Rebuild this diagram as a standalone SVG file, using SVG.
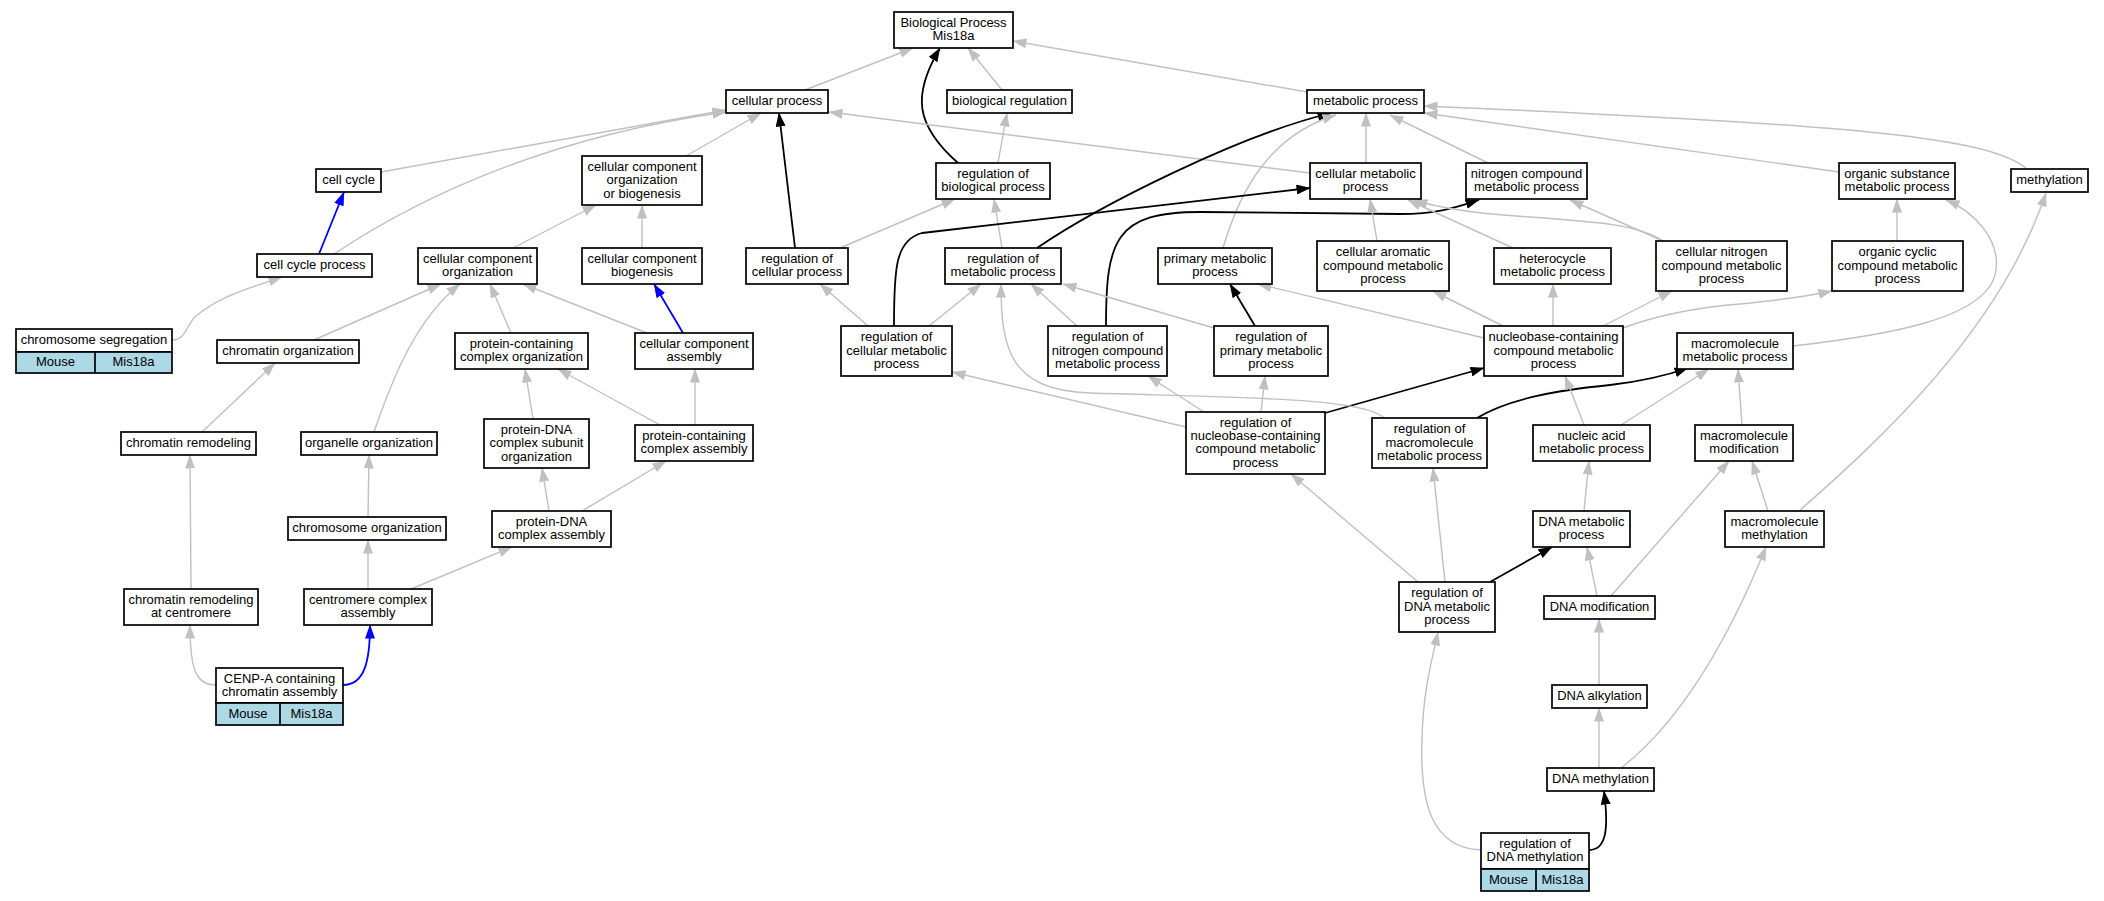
<svg xmlns="http://www.w3.org/2000/svg" width="2104" height="901" viewBox="0 0 2104 901">
<style>
rect{fill:#fff;stroke:#000;stroke-width:1.7}
rect.sp{fill:#add8e6}
line.dv{stroke:#000;stroke-width:1.7}
text{font-family:"Liberation Sans",Arial,sans-serif;font-size:13px;text-anchor:middle;fill:#000}
.g,.k,.b{fill:none}
.g{stroke:#c0c0c0;stroke-width:1.4;marker-end:url(#ag)}
.k{stroke:#000;stroke-width:1.8;marker-end:url(#ak)}
.b{stroke:#0000ff;stroke-width:1.8;marker-end:url(#ab)}
.hg{fill:#c0c0c0;stroke:none}
.hk{fill:#000;stroke:none}
.hb{fill:#0000ff;stroke:none}
</style>
<defs>
<marker id="ag" markerUnits="userSpaceOnUse" markerWidth="14" markerHeight="10" viewBox="0 0 14 10" refX="13.5" refY="5" orient="auto"><path class="hg" d="M0,0 L14,5 L0,10 z"/></marker>
<marker id="ak" markerUnits="userSpaceOnUse" markerWidth="14" markerHeight="10" viewBox="0 0 14 10" refX="13.5" refY="5" orient="auto"><path class="hk" d="M0,0 L14,5 L0,10 z"/></marker>
<marker id="ab" markerUnits="userSpaceOnUse" markerWidth="14" markerHeight="10" viewBox="0 0 14 10" refX="13.5" refY="5" orient="auto"><path class="hb" d="M0,0 L14,5 L0,10 z"/></marker>
</defs>
<rect x="0" y="0" width="2104" height="901" style="fill:#fff;stroke:none"/>
<g id="edges">
<path class="g" d="M805,90 L913,48"/>
<path class="k" d="M958,163 C915,125 912,95 940,48"/>
<path class="g" d="M1002,90 L968,48"/>
<path class="g" d="M1307,92 L1013,41"/>
<path class="g" d="M381,172 L726,110"/>
<path class="g" d="M334,254 C430,190 560,135 726,112"/>
<path class="g" d="M686,156 L761,113"/>
<path class="k" d="M795,248 L779,113"/>
<path class="g" d="M1310,173 L829,112"/>
<path class="b" d="M319,254 L344,192"/>
<path class="g" d="M172,340 C186,340 186,325 196,316 C220,296 250,288 282,277"/>
<path class="g" d="M513,248 L596,205"/>
<path class="g" d="M642,248 L642,205"/>
<path class="b" d="M683,333 L654,284"/>
<path class="g" d="M314,340 L441,284"/>
<path class="g" d="M374,432 C392,380 415,320 460,284"/>
<path class="g" d="M511,333 L490,284"/>
<path class="g" d="M647,333 L523,284"/>
<path class="g" d="M202,432 L275,363"/>
<path class="g" d="M533,419 L525,369"/>
<path class="g" d="M660,425 L558,369"/>
<path class="g" d="M695,425 L695,369"/>
<path class="g" d="M368,517 L369,455"/>
<path class="g" d="M191,589 L190,455"/>
<path class="g" d="M549,511 L542,468"/>
<path class="g" d="M582,511 L666,461"/>
<path class="g" d="M368,589 L368,540"/>
<path class="g" d="M411,589 L512,547"/>
<path class="g" d="M216,685 C196,685 190,670 190,625"/>
<path class="b" d="M343,685 C365,685 370,660 370,625"/>
<path class="g" d="M998,163 L1007,113"/>
<path class="g" d="M840,248 L955,199"/>
<path class="g" d="M1002,248 L994,199"/>
<path class="k" d="M1037,248 C1100,205 1240,135 1331,113"/>
<path class="g" d="M1223,248 C1240,190 1270,135 1336,115"/>
<path class="g" d="M1366,163 L1366,113"/>
<path class="g" d="M1488,163 L1390,115"/>
<path class="g" d="M1839,172 L1424,113"/>
<path class="g" d="M2027,169 C1990,138 1870,125 1424,106"/>
<path class="g" d="M868,326 L820,284"/>
<path class="g" d="M929,326 L981,284"/>
<path class="k" d="M894,326 C894,270 895,240 922,233 L1310,188"/>
<path class="g" d="M1077,326 L1031,284"/>
<path class="k" d="M1106,326 C1106,240 1115,212 1200,212 L1400,214 C1440,214 1460,206 1479,200"/>
<path class="g" d="M1214,328 L1063,284"/>
<path class="k" d="M1255,326 L1230,284"/>
<path class="g" d="M1377,241 L1370,199"/>
<path class="g" d="M1186,427 L952,372"/>
<path class="g" d="M1204,412 L1148,376"/>
<path class="g" d="M1261,412 L1265,376"/>
<path class="k" d="M1325,413 L1484,368"/>
<path class="g" d="M1384,418 C1365,398 1250,398 1090,393 C1010,390 1001,350 1001,284"/>
<path class="k" d="M1477,418 C1510,398 1560,390 1610,385 C1645,381 1665,376 1688,368"/>
<path class="g" d="M1484,338 L1258,284"/>
<path class="g" d="M1503,326 L1433,291"/>
<path class="g" d="M1553,326 L1553,284"/>
<path class="g" d="M1603,326 L1672,291"/>
<path class="g" d="M1623,328 C1655,316 1690,308 1740,304 C1780,300 1805,297 1832,291"/>
<path class="g" d="M1513,248 L1408,200"/>
<path class="g" d="M1663,241 C1640,225 1600,222 1530,217 C1470,213 1440,208 1414,200"/>
<path class="g" d="M1663,241 L1570,200"/>
<path class="g" d="M1897,241 L1897,199"/>
<path class="g" d="M1793,346 C1880,336 1990,320 1996,270 C2000,240 1975,212 1946,200"/>
<path class="g" d="M1584,425 L1565,376"/>
<path class="g" d="M1621,425 L1709,369"/>
<path class="g" d="M1742,425 L1738,369"/>
<path class="g" d="M1418,582 L1291,474"/>
<path class="g" d="M1445,582 L1433,468"/>
<path class="k" d="M1490,582 L1552,547"/>
<path class="g" d="M1584,511 L1589,461"/>
<path class="g" d="M1597,596 L1587,547"/>
<path class="g" d="M1611,596 L1729,461"/>
<path class="g" d="M1768,511 L1752,461"/>
<path class="g" d="M1799,511 C1880,440 2000,330 2046,193"/>
<path class="g" d="M1599,685 L1599,619"/>
<path class="g" d="M1599,768 L1599,708"/>
<path class="g" d="M1621,768 C1670,730 1720,660 1766,547"/>
<path class="k" d="M1589,850 C1606,850 1609,830 1604,791"/>
<path class="g" d="M1481,850 C1430,848 1420,800 1422,740 C1423,690 1432,660 1438,632"/>
</g>
<g id="n1"><rect x="894" y="12" width="119" height="36"/><text x="953.5" y="27.1">Biological Process</text><text x="953.5" y="40.4">Mis18a</text></g>
<g id="n2"><rect x="726" y="90" width="102" height="23"/><text x="777" y="105.2">cellular process</text></g>
<g id="n3"><rect x="947" y="90" width="125" height="23"/><text x="1009.5" y="105.2">biological regulation</text></g>
<g id="n4"><rect x="1307" y="90" width="117" height="23"/><text x="1365.5" y="105.2">metabolic process</text></g>
<g id="n5"><rect x="316" y="169" width="65" height="23"/><text x="348.5" y="184.2">cell cycle</text></g>
<g id="n6"><rect x="582" y="156" width="120" height="49"/><text x="642" y="170.9">cellular component</text><text x="642" y="184.2">organization</text><text x="642" y="197.5">or biogenesis</text></g>
<g id="n7"><rect x="936" y="163" width="114" height="36"/><text x="993" y="178.05">regulation of</text><text x="993" y="191.35">biological process</text></g>
<g id="n8"><rect x="1310" y="163" width="111" height="36"/><text x="1365.5" y="178.05">cellular metabolic</text><text x="1365.5" y="191.35">process</text></g>
<g id="n9"><rect x="1466" y="163" width="121" height="36"/><text x="1526.5" y="178.05">nitrogen compound</text><text x="1526.5" y="191.35">metabolic process</text></g>
<g id="n10"><rect x="1839" y="163" width="116" height="36"/><text x="1897" y="178.05">organic substance</text><text x="1897" y="191.35">metabolic process</text></g>
<g id="n11"><rect x="2011" y="169" width="77" height="23"/><text x="2049.5" y="184.2">methylation</text></g>
<g id="n12"><rect x="257" y="254" width="115" height="23"/><text x="314.5" y="269.2">cell cycle process</text></g>
<g id="n13"><rect x="418" y="248" width="119" height="36"/><text x="477.5" y="263.05">cellular component</text><text x="477.5" y="276.35">organization</text></g>
<g id="n14"><rect x="582" y="248" width="120" height="36"/><text x="642" y="263.05">cellular component</text><text x="642" y="276.35">biogenesis</text></g>
<g id="n15"><rect x="746" y="248" width="102" height="36"/><text x="797" y="263.05">regulation of</text><text x="797" y="276.35">cellular process</text></g>
<g id="n16"><rect x="945" y="248" width="116" height="36"/><text x="1003" y="263.05">regulation of</text><text x="1003" y="276.35">metabolic process</text></g>
<g id="n17"><rect x="1158" y="248" width="114" height="36"/><text x="1215" y="263.05">primary metabolic</text><text x="1215" y="276.35">process</text></g>
<g id="n18"><rect x="1317" y="241" width="132" height="50"/><text x="1383" y="256.4">cellular aromatic</text><text x="1383" y="269.7">compound metabolic</text><text x="1383" y="283">process</text></g>
<g id="n19"><rect x="1494" y="248" width="117" height="36"/><text x="1552.5" y="263.05">heterocycle</text><text x="1552.5" y="276.35">metabolic process</text></g>
<g id="n20"><rect x="1656" y="241" width="131" height="50"/><text x="1721.5" y="256.4">cellular nitrogen</text><text x="1721.5" y="269.7">compound metabolic</text><text x="1721.5" y="283">process</text></g>
<g id="n21"><rect x="1832" y="241" width="131" height="50"/><text x="1897.5" y="256.4">organic cyclic</text><text x="1897.5" y="269.7">compound metabolic</text><text x="1897.5" y="283">process</text></g>
<g id="n22"><rect x="16" y="329" width="156" height="23"/><rect class="sp" x="16" y="352" width="156" height="21"/><line class="dv" x1="95" y1="352" x2="95" y2="373"/><text x="94" y="343.5">chromosome segregation</text><text x="55.5" y="365.5">Mouse</text><text x="133.5" y="365.5">Mis18a</text></g>
<g id="n23"><rect x="217" y="340" width="142" height="23"/><text x="288" y="355.2">chromatin organization</text></g>
<g id="n24"><rect x="455" y="333" width="133" height="36"/><text x="521.5" y="348.05">protein-containing</text><text x="521.5" y="361.35">complex organization</text></g>
<g id="n25"><rect x="635" y="333" width="118" height="36"/><text x="694" y="348.05">cellular component</text><text x="694" y="361.35">assembly</text></g>
<g id="n26"><rect x="841" y="326" width="111" height="50"/><text x="896.5" y="341.4">regulation of</text><text x="896.5" y="354.7">cellular metabolic</text><text x="896.5" y="368">process</text></g>
<g id="n27"><rect x="1048" y="326" width="119" height="50"/><text x="1107.5" y="341.4">regulation of</text><text x="1107.5" y="354.7">nitrogen compound</text><text x="1107.5" y="368">metabolic process</text></g>
<g id="n28"><rect x="1214" y="326" width="114" height="50"/><text x="1271" y="341.4">regulation of</text><text x="1271" y="354.7">primary metabolic</text><text x="1271" y="368">process</text></g>
<g id="n29"><rect x="1484" y="326" width="139" height="50"/><text x="1553.5" y="341.4">nucleobase-containing</text><text x="1553.5" y="354.7">compound metabolic</text><text x="1553.5" y="368">process</text></g>
<g id="n30"><rect x="1677" y="333" width="116" height="36"/><text x="1735" y="348.05">macromolecule</text><text x="1735" y="361.35">metabolic process</text></g>
<g id="n31"><rect x="121" y="432" width="135" height="23"/><text x="188.5" y="447.2">chromatin remodeling</text></g>
<g id="n32"><rect x="301" y="432" width="136" height="23"/><text x="369" y="447.2">organelle organization</text></g>
<g id="n33"><rect x="484" y="419" width="105" height="49"/><text x="536.5" y="433.9">protein-DNA</text><text x="536.5" y="447.2">complex subunit</text><text x="536.5" y="460.5">organization</text></g>
<g id="n34"><rect x="635" y="425" width="118" height="36"/><text x="694" y="440.05">protein-containing</text><text x="694" y="453.35">complex assembly</text></g>
<g id="n35"><rect x="1186" y="412" width="139" height="62"/><text x="1255.5" y="426.75">regulation of</text><text x="1255.5" y="440.05">nucleobase-containing</text><text x="1255.5" y="453.35">compound metabolic</text><text x="1255.5" y="466.65">process</text></g>
<g id="n36"><rect x="1372" y="418" width="115" height="50"/><text x="1429.5" y="433.4">regulation of</text><text x="1429.5" y="446.7">macromolecule</text><text x="1429.5" y="460">metabolic process</text></g>
<g id="n37"><rect x="1533" y="425" width="117" height="36"/><text x="1591.5" y="440.05">nucleic acid</text><text x="1591.5" y="453.35">metabolic process</text></g>
<g id="n38"><rect x="1695" y="425" width="98" height="36"/><text x="1744" y="440.05">macromolecule</text><text x="1744" y="453.35">modification</text></g>
<g id="n39"><rect x="288" y="517" width="158" height="23"/><text x="367" y="532.2">chromosome organization</text></g>
<g id="n40"><rect x="492" y="511" width="119" height="36"/><text x="551.5" y="526.05">protein-DNA</text><text x="551.5" y="539.35">complex assembly</text></g>
<g id="n41"><rect x="1533" y="511" width="97" height="36"/><text x="1581.5" y="526.05">DNA metabolic</text><text x="1581.5" y="539.35">process</text></g>
<g id="n42"><rect x="1725" y="511" width="99" height="36"/><text x="1774.5" y="526.05">macromolecule</text><text x="1774.5" y="539.35">methylation</text></g>
<g id="n43"><rect x="124" y="589" width="134" height="36"/><text x="191" y="604.05">chromatin remodeling</text><text x="191" y="617.35">at centromere</text></g>
<g id="n44"><rect x="304" y="589" width="128" height="36"/><text x="368" y="604.05">centromere complex</text><text x="368" y="617.35">assembly</text></g>
<g id="n45"><rect x="1399" y="582" width="96" height="50"/><text x="1447" y="597.4">regulation of</text><text x="1447" y="610.7">DNA metabolic</text><text x="1447" y="624">process</text></g>
<g id="n46"><rect x="1544" y="596" width="111" height="23"/><text x="1599.5" y="611.2">DNA modification</text></g>
<g id="n47"><rect x="216" y="668" width="127" height="35"/><rect class="sp" x="216" y="703" width="127" height="22"/><line class="dv" x1="280" y1="703" x2="280" y2="725"/><text x="279.5" y="682.55">CENP-A containing</text><text x="279.5" y="695.85">chromatin assembly</text><text x="248" y="717.7">Mouse</text><text x="311.5" y="717.7">Mis18a</text></g>
<g id="n48"><rect x="1552" y="685" width="95" height="23"/><text x="1599.5" y="700.2">DNA alkylation</text></g>
<g id="n49"><rect x="1547" y="768" width="107" height="23"/><text x="1600.5" y="783.2">DNA methylation</text></g>
<g id="n50"><rect x="1481" y="833" width="108" height="36"/><rect class="sp" x="1481" y="869" width="108" height="22"/><line class="dv" x1="1536" y1="869" x2="1536" y2="891"/><text x="1535" y="848.05">regulation of</text><text x="1535" y="861.35">DNA methylation</text><text x="1508.5" y="883.7">Mouse</text><text x="1562.5" y="883.7">Mis18a</text></g>
</svg>
